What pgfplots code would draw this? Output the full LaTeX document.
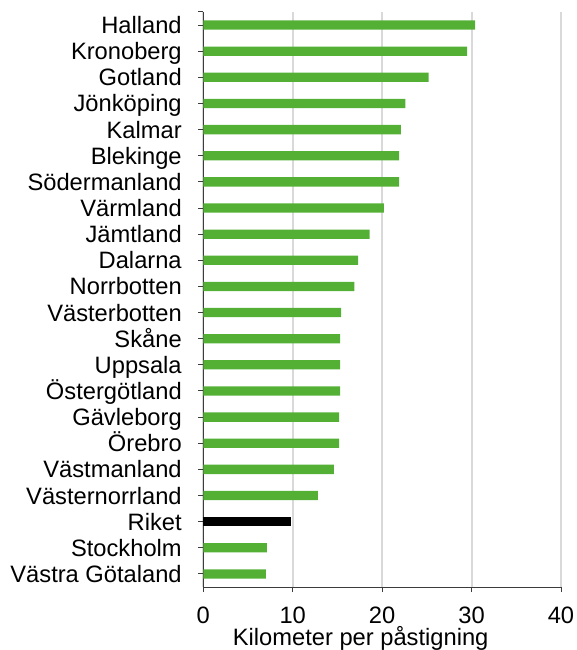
\documentclass[border=0pt]{standalone}
\usepackage{pgfplots}
\pgfplotsset{compat=1.18}
\usepackage{fontspec}
\setmainfont{Liberation Sans}
\definecolor{bargreen}{RGB}{83,176,52}
\definecolor{gridgray}{RGB}{217,217,217}
\definecolor{axisgray}{RGB}{60,60,60}
\begin{document}
\fontsize{23.7}{28}\selectfont
\begin{tikzpicture}
\useasboundingbox (-203.3pt,-63pt) rectangle (373.7pt,587pt);
\begin{axis}[
  at={(0,0)}, anchor=south west,
  scale only axis, width=357.7pt, height=575pt,
  font=\fontsize{23.7}{28}\selectfont,
  xmin=0, xmax=40, ymin=-0.5, ymax=21.5, y dir=reverse,
  xtick={0,10,20,30,40},
  ytick={0,...,21},
  yticklabels={Halland,Kronoberg,Gotland,Jönköping,Kalmar,Blekinge,Södermanland,Värmland,Jämtland,Dalarna,Norrbotten,Västerbotten,Skåne,Uppsala,Östergötland,Gävleborg,Örebro,Västmanland,Västernorrland,Riket,Stockholm,Västra Götaland},
  extra y ticks={-0.5}, extra y tick labels={},
  axis x line*=bottom, axis y line*=left,
  axis line style={-, axisgray, line width=1pt},
  tick align=outside, major tick length=5pt,
  tick style={axisgray, line width=1pt},
  xmajorgrids, grid style={gridgray, line width=2pt},
  /pgf/number format/assume math mode=true,
  yticklabel style={anchor=base east, yshift=-8.5pt, xshift=-8.5pt},
  xticklabel style={anchor=base, yshift=-31pt, inner sep=0pt},
  xlabel={Kilometer per påstigning},
  xlabel style={at={(axis description cs:0.44,0)}, anchor=base, yshift=-58pt, inner sep=0pt},
  xbar, bar width=9.3pt, bar shift=0pt,
  clip=false,
]
\addplot[fill=bargreen, draw=none] coordinates {
(30.4,0) (29.5,1) (25.2,2) (22.6,3) (22.1,4) (21.9,5) (21.9,6) (20.2,7)
(18.6,8) (17.3,9) (16.9,10) (15.4,11) (15.3,12) (15.3,13) (15.3,14)
(15.2,15) (15.2,16) (14.6,17) (12.8,18) (7.1,20) (7.0,21)
};
\addplot[fill=black, draw=none] coordinates {(9.8,19)};
\end{axis}
\end{tikzpicture}
\end{document}
